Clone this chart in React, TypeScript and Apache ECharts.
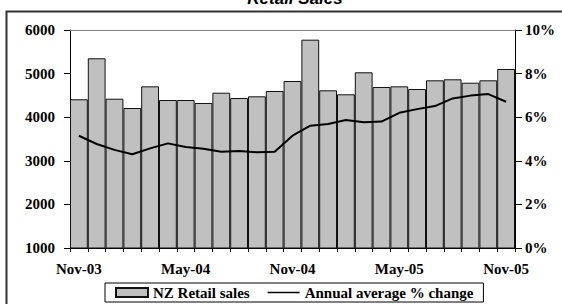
import React, { useEffect, useRef } from "react";
import * as echarts from "echarts";

const categories = [
  "Nov-03", "Dec-03", "Jan-04", "Feb-04", "Mar-04", "Apr-04", "May-04", "Jun-04", "Jul-04",
  "Aug-04", "Sep-04", "Oct-04", "Nov-04", "Dec-04", "Jan-05", "Feb-05", "Mar-05", "Apr-05",
  "May-05", "Jun-05", "Jul-05", "Aug-05", "Sep-05", "Oct-05", "Nov-05",
];
const retailSales = [
  4411, 5351, 4424, 4211, 4708, 4394, 4394, 4326, 4562, 4440, 4479, 4601, 4830,
  5778, 4617, 4525, 5030, 4693, 4708, 4647, 4846, 4869, 4791, 4846, 5106,
];
const annualAvgChange = [
  5.15, 4.77, 4.5, 4.3, 4.57, 4.8, 4.63, 4.55, 4.42, 4.45, 4.39, 4.42, 5.15,
  5.61, 5.69, 5.87, 5.77, 5.8, 6.2, 6.37, 6.51, 6.86, 6.99, 7.06, 6.71,
];

const serifBold = {
  fontFamily: "'Liberation Serif', 'Times New Roman', serif",
  fontWeight: "bold" as const,
  fontSize: 15,
  color: "#000",
};

export default function App() {
  const ref = useRef<HTMLDivElement>(null);
  useEffect(() => {
    if (!ref.current) return;
    const chart = echarts.init(ref.current, null, { renderer: "svg" });
    chart.setOption({
      animation: false,
      backgroundColor: "#fff",
      graphic: [
        {
          type: "rect",
          shape: { x: 6.5, y: 11.5, width: 620, height: 360 },
          style: { fill: "none", stroke: "#333", lineWidth: 2 },
          z: -10,
        },
        {
          type: "text",
          x: 295,
          y: -2,
          style: {
            text: "Retail Sales",
            font: "italic bold 17px 'Liberation Sans', Arial, sans-serif",
            fill: "#000",
            textAlign: "center",
            textVerticalAlign: "middle",
          },
        },
      ],
      grid: { left: 70, right: 47, top: 30, bottom: 56 },
      legend: {
        left: 105,
        bottom: 2,
        padding: [2, 10, 2, 10],
        itemGap: 18,
        itemWidth: 32,
        itemHeight: 9,
        borderColor: "#000",
        borderWidth: 1,
        textStyle: { ...serifBold },
        data: [
          { name: "NZ Retail sales", icon: "rect" },
          { name: "Annual average % change", icon: "path://M0,0 L40,0 L40,2 L0,2 Z" },
        ],
      },
      xAxis: {
        type: "category",
        data: categories,
        axisLine: { lineStyle: { color: "#000", width: 1 } },
        axisTick: { show: true, interval: 0, length: 4, lineStyle: { color: "#000" } },
        axisLabel: { ...serifBold, interval: 5, margin: 13 },
        splitLine: { show: false },
      },
      yAxis: [
        {
          type: "value",
          min: 1000,
          max: 6000,
          interval: 1000,
          axisLine: { show: true, lineStyle: { color: "#000", width: 1 } },
          axisTick: { show: true, length: 6, lineStyle: { color: "#000" } },
          axisLabel: { ...serifBold, margin: 15, formatter: (v: number) => String(v) },
          splitLine: { show: false },
        },
        {
          type: "value",
          min: 0,
          max: 10,
          interval: 2,
          axisLine: { show: true, lineStyle: { color: "#000", width: 1 } },
          axisTick: { show: true, length: 7, lineStyle: { color: "#000" } },
          axisLabel: { ...serifBold, margin: 10, formatter: "{value}%" },
          splitLine: { show: false },
        },
      ],
      series: [
        {
          name: "NZ Retail sales",
          type: "bar",
          data: retailSales,
          barCategoryGap: "0%",
          itemStyle: { color: "#c0c0c0", borderColor: "#111", borderWidth: 1 },
          markLine: {
            silent: true,
            symbol: "none",
            label: { show: false },
            lineStyle: { color: "#808080", type: "solid", width: 1 },
            data: [{ yAxis: 6000 }],
          },
        },
        {
          name: "Annual average % change",
          type: "line",
          yAxisIndex: 1,
          data: annualAvgChange,
          symbol: "none",
          lineStyle: { color: "#000", width: 2 },
          itemStyle: { color: "#000" },
          z: 5,
        },
      ],
    });
    return () => chart.dispose();
  }, []);
  return (
    <div
      ref={ref}
      style={{ position: "fixed", left: 0, top: 0, width: 562, height: 304 }}
    />
  );
}
